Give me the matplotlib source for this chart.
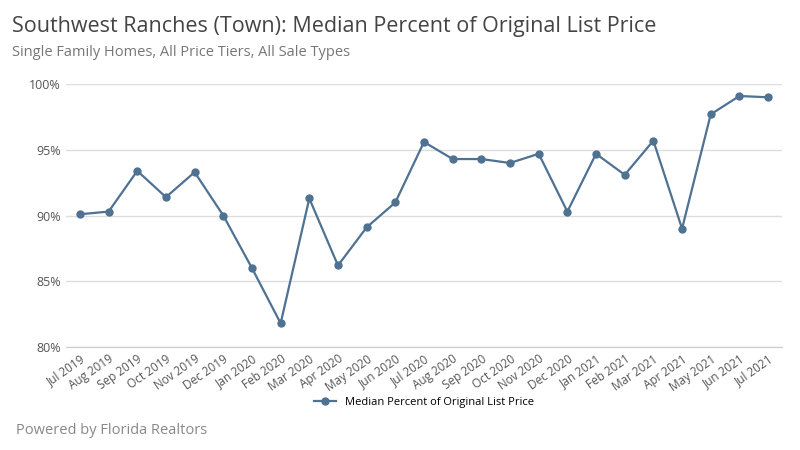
import matplotlib
matplotlib.use("Agg")
import matplotlib.pyplot as plt
from matplotlib.ticker import FuncFormatter

months = ["Jul 2019","Aug 2019","Sep 2019","Oct 2019","Nov 2019","Dec 2019","Jan 2020","Feb 2020","Mar 2020","Apr 2020","May 2020","Jun 2020","Jul 2020","Aug 2020","Sep 2020","Oct 2020","Nov 2020","Dec 2020","Jan 2021","Feb 2021","Mar 2021","Apr 2021","May 2021","Jun 2021","Jul 2021"]
values = [90.1,90.3,93.4,91.4,93.3,90.0,86.0,81.8,91.3,86.2,89.1,91.0,95.6,94.3,94.3,94.0,94.7,90.3,94.7,93.1,95.7,89.0,97.7,99.1,99.0]

plt.rcParams["font.family"] = "Open Sans"
fig = plt.figure(figsize=(8, 4.5), dpi=100)
ax = fig.add_axes([0.082, 0.229, 0.896, 0.584])
c = "#4f7192"
ax.plot(range(len(months)), values, color=c, lw=1.6, marker="o", ms=5, label="Median Percent of Original List Price")
ax.set_ylim(80, 100)
ax.set_xlim(-0.5, len(months) - 0.5)
ax.set_yticks([80, 85, 90, 95, 100])
ax.yaxis.set_major_formatter(FuncFormatter(lambda v, p: f"{int(v)}%"))
ax.set_xticks(range(len(months)))
ax.set_xticklabels(months, rotation=35, ha="right", rotation_mode="anchor", fontsize=8.5, color="#555555")
ax.tick_params(axis="y", labelsize=9, colors="#555555", length=0)
ax.tick_params(axis="x", length=0, pad=4)
ax.grid(axis="y", color="#dddddd", lw=1)
for s in ["top", "right", "left"]:
    ax.spines[s].set_visible(False)
ax.spines["bottom"].set_color("#cccccc")
ax.set_axisbelow(True)
fig.text(0.015, 0.965, "Southwest Ranches (Town): Median Percent of Original List Price", fontsize=15.5, color="#444444", va="top")
fig.text(0.015, 0.9, "Single Family Homes, All Price Tiers, All Sale Types", fontsize=10.5, color="#777777", va="top")
fig.text(0.02, 0.035, "Powered by Florida Realtors", fontsize=10.5, color="#888888")
fig.legend(loc="center", bbox_to_anchor=(0.53, 0.105), frameon=False, fontsize=8, handlelength=2)
fig.savefig("out.png")
